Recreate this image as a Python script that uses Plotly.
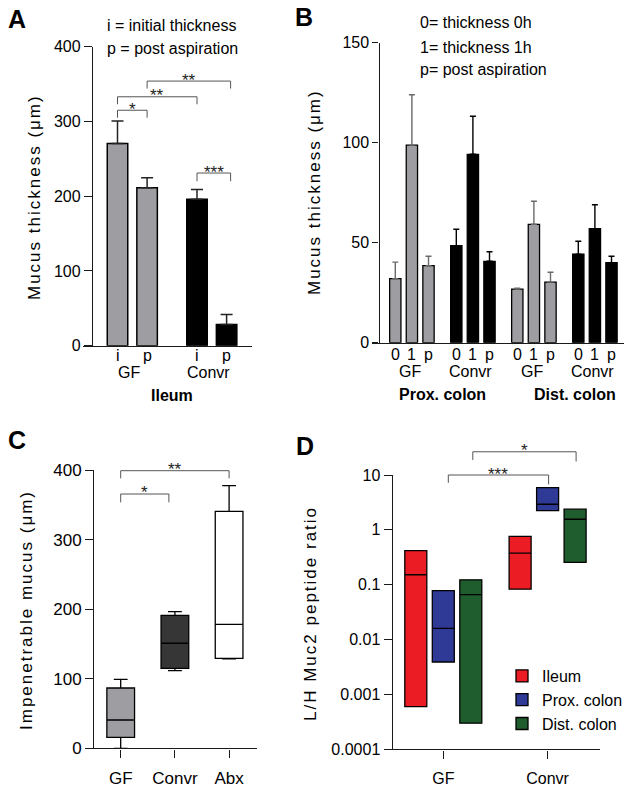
import math
import plotly.graph_objects as go

W, H = 634, 788
FONT = "Liberation Sans, Arial, Helvetica, sans-serif"

# ---------------- data ----------------
# Panel A (Ileum)
a_groups = ["GF", "Convr"]
a_conds = ["i", "p"]
a_mean = [[270.5, 211.4], [195.8, 28.5]]
a_errtop = [[300.6, 224.7], [209.0, 41.9]]
a_region = "Ileum"
a_yticks = [0, 100, 200, 300, 400]
# brackets: (label, (group, cond), (group, cond), level, leg bottom)
a_sig = [("*", (0, 0), (0, 1), 315, 305),
         ("**", (0, 0), (1, 0), 333, 323),
         ("**", (0, 1), (1, 1), 354, 344),
         ("***", (1, 0), (1, 1), 231, 220)]

# Panel B (colon)
b_regions = ["Prox. colon", "Dist. colon"]
b_groups = ["GF", "Convr"]
b_conds = ["0", "1", "p"]
b_mean = {("Prox. colon", "GF"): [32.0, 98.8, 38.5],
          ("Prox. colon", "Convr"): [48.5, 94.2, 40.7],
          ("Dist. colon", "GF"): [26.8, 59.2, 30.3],
          ("Dist. colon", "Convr"): [44.3, 57.0, 40.0]}
b_errtop = {("Prox. colon", "GF"): [40.3, 124.0, 43.2],
            ("Prox. colon", "Convr"): [56.7, 113.2, 45.5],
            ("Dist. colon", "GF"): [27.3, 70.7, 35.2],
            ("Dist. colon", "Convr"): [50.7, 69.0, 43.2]}
b_yticks = [0, 50, 100, 150]

# Panel C (impenetrable mucus, box plots)
c_cats = ["GF", "Convr", "Abx"]
c_low = [0, 111.6, 128.4]
c_q1 = [15.8, 115.0, 129.3]
c_med = [40.7, 151.0, 178.0]
c_q3 = [86.7, 191.0, 340.6]
c_high = [99.0, 196.4, 377.5]
c_yticks = [0, 100, 200, 300, 400]
c_sig = [("*", 0, 1, 365.5, 353.5), ("**", 0, 2, 399, 388)]

# Panel D (L/H Muc2 peptide ratio, floating bars min-median-max)
d_cats = ["GF", "Convr"]
d_series = ["Ileum", "Prox. colon", "Dist. colon"]
d_min = {"Ileum": [0.0006, 0.083], "Prox. colon": [0.0039, 2.25], "Dist. colon": [0.0003, 0.255]}
d_med = {"Ileum": [0.152, 0.377], "Prox. colon": [0.016, 2.93], "Dist. colon": [0.066, 1.56]}
d_max = {"Ileum": [0.42, 0.76], "Prox. colon": [0.078, 5.9], "Dist. colon": [0.123, 2.38]}
d_yticks = [0.0001, 0.001, 0.01, 0.1, 1, 10]
d_yticktext = ["0.0001", "0.001", "0.01", "0.1", "1", "10"]
d_sig = [("***", (0, 1), (1, 1), 10, 7.2), ("*", (0, 2), (1, 2), 26.5, 18.8)]

# ---------------- styles / layout constants ----------------
GRAY = "#9e9ea2"
BLACK = "#000000"
AXC = "#1a1a1a"
SIGC = "#555555"
STARC = "#222222"
d_colors = {"Ileum": "#ec1c24", "Prox. colon": "#2f3a96", "Dist. colon": "#1f5c2e"}
c_fill = ["#9e9ea2", "#363636", "#ffffff"]


def yp(p):
    return 1 - p / H


def xp(p):
    return p / W


# x positions in pixel-like axis units
A_X0, A_SLOT, A_GSTEP, A_BW = 117.5, 29.6, 79.5, 20.5
B_X0, B_SLOT, B_GSTEP, B_BW = 395.3, 16.6, 61.0, 11.3
C_X0, C_STEP, C_BW = 120.7, 54.2, 27.7
D_X0, D_STEP, D_SLOT, D_BW = 443.3, 104.3, 27.5, 22.0

D_DOM = [yp(749.3), yp(475)]
D_RANGE = [-4, 1]


def ax_(g, c):
    return A_X0 + g * A_GSTEP + c * A_SLOT


def bx_(r, g, c):
    return B_X0 + (r * 2 + g) * B_GSTEP + c * B_SLOT


def cx_(i):
    return C_X0 + i * C_STEP


def dx_(i, s):
    return D_X0 + i * D_STEP + (s - 1) * D_SLOT


def d_paper(v):
    f = (math.log10(v) - D_RANGE[0]) / (D_RANGE[1] - D_RANGE[0])
    return D_DOM[0] + f * (D_DOM[1] - D_DOM[0])


fig = go.Figure()
ann = []
shapes = []


def bracket(xref, yref, x1, x2, lev, leg1, leg2=None):
    if leg2 is None:
        leg2 = leg1
    path = "M %f,%f L %f,%f L %f,%f L %f,%f" % (x1, leg1, x1, lev, x2, lev, x2, leg2)
    shapes.append(dict(type="path", path=path, xref=xref, yref=yref,
                       line=dict(color=SIGC, width=1)))


def star(lab, xref, yref, x, y):
    ann.append(dict(text=lab, x=x, xref=xref, y=y, yref=yref, yshift=1,
                    showarrow=False, font=dict(size=17, color=STARC), yanchor="middle"))


# ---------- Panel A ----------
for g, grp in enumerate(a_groups):
    xs = [ax_(g, c) for c in range(len(a_conds))]
    col = GRAY if grp == "GF" else BLACK
    fig.add_trace(go.Bar(
        x=xs, y=a_mean[g], width=A_BW, xaxis="x", yaxis="y",
        marker=dict(color=col, line=dict(color=BLACK, width=1.5)),
        error_y=dict(type="data", symmetric=False,
                     array=[t - m for t, m in zip(a_errtop[g], a_mean[g])],
                     arrayminus=[0] * len(a_mean[g]),
                     color="#222222", thickness=1.5, width=6),
        showlegend=False, hoverinfo="skip"))
    for x, cond in zip(xs, a_conds):
        ann.append(dict(text=cond, x=x, xref="x", y=yp(355.5), yref="paper",
                        showarrow=False, font=dict(size=16), yanchor="middle"))
    ann.append(dict(text=grp, x=sum(xs) / len(xs) - 3, xref="x", y=yp(372.5), yref="paper",
                    showarrow=False, font=dict(size=16), xanchor="center", yanchor="middle"))
ann.append(dict(text="<b>%s</b>" % a_region, x=(ax_(0, 0) + ax_(1, 1)) / 2, xref="x",
                y=yp(395), yref="paper", showarrow=False, font=dict(size=16),
                yanchor="middle"))
for lab, (g1, c1), (g2, c2), lev, leg in a_sig:
    x1, x2 = ax_(g1, c1), ax_(g2, c2) + (4 if (g2, c2) == (1, 1) else 0)
    bracket("x", "y", x1, x2, lev, leg)
    star(lab, "x", "y", (x1 + x2) / 2, lev)

# ---------- Panel B ----------
for r, reg in enumerate(b_regions):
    for g, grp in enumerate(b_groups):
        xs = [bx_(r, g, c) for c in range(len(b_conds))]
        col = GRAY if grp == "GF" else BLACK
        m = b_mean[(reg, grp)]
        e = b_errtop[(reg, grp)]
        fig.add_trace(go.Bar(
            x=xs, y=m, width=B_BW, xaxis="x2", yaxis="y2",
            marker=dict(color=col, line=dict(color=BLACK, width=1.3)),
            error_y=dict(type="data", symmetric=False,
                         array=[t - v for t, v in zip(e, m)], arrayminus=[0] * len(m),
                         color="#6a6a6a" if grp == "GF" else BLACK, thickness=1.4, width=3),
            showlegend=False, hoverinfo="skip"))
        for x, cond in zip(xs, b_conds):
            ann.append(dict(text=cond, x=x, xref="x2", y=yp(354.5), yref="paper",
                            showarrow=False, font=dict(size=16), yanchor="middle"))
        ann.append(dict(text=grp, x=xs[1] - 2, xref="x2", y=yp(371.5), yref="paper",
                        showarrow=False, font=dict(size=16), yanchor="middle"))
    xr = (bx_(r, 0, 0) + bx_(r, 1, 2)) / 2 + (0 if r == 0 else 11)
    ann.append(dict(text="<b>%s</b>" % reg, x=xr, xref="x2", y=yp(394.5), yref="paper",
                    showarrow=False, font=dict(size=16), yanchor="middle"))

# ---------- Panel C ----------
for i, cat in enumerate(c_cats):
    fig.add_trace(go.Box(
        x=[cx_(i)], q1=[c_q1[i]], median=[c_med[i]], q3=[c_q3[i]],
        lowerfence=[c_low[i]], upperfence=[c_high[i]], orientation="v",
        width=C_BW, whiskerwidth=0.5, fillcolor=c_fill[i],
        line=dict(color=BLACK, width=1.3), boxpoints=False,
        xaxis="x3", yaxis="y3", showlegend=False, hoverinfo="skip"))
for lab, i1, i2, lev, leg in c_sig:
    x1, x2 = cx_(i1), cx_(i2) - (6 if i2 == 1 else 0)
    bracket("x3", "y3", x1, x2, lev, leg)
    star(lab, "x3", "y3", (x1 + x2) / 2, lev)

# ---------- Panel D ----------
for s, ser in enumerate(d_series):
    fig.add_trace(go.Box(
        x=[dx_(i, s) for i in range(len(d_cats))],
        q1=d_min[ser], median=d_med[ser], q3=d_max[ser],
        lowerfence=d_min[ser], upperfence=d_max[ser], orientation="v",
        width=D_BW, whiskerwidth=0, fillcolor=d_colors[ser],
        line=dict(color=BLACK, width=1.3), boxpoints=False, name=ser,
        xaxis="x4", yaxis="y4", showlegend=True, hoverinfo="skip"))
for lab, (i1, s1), (i2, s2), lev, leg in d_sig:
    x1, x2 = dx_(i1, s1) + (5 if s1 == 1 else 2), dx_(i2, s2) + 1
    bracket("x4", "paper", x1, x2, d_paper(lev), d_paper(leg), d_paper(leg) - 0.002)
    star(lab, "x4", "paper", (x1 + x2) / 2, d_paper(lev))

# ---------- text annotations ----------
for txt, x, y in [("A", 17, 18.5), ("B", 304, 17.5), ("C", 16.5, 440), ("D", 305, 446)]:
    ann.append(dict(text="<b>%s</b>" % txt, x=xp(x), y=yp(y), xref="paper", yref="paper",
                    showarrow=False, font=dict(size=25), xanchor="center", yanchor="middle"))
for txt, x, y in [("i = initial thickness", 105, 25), ("p = post aspiration", 105, 49),
                  ("0= thickness 0h", 418, 23), ("1= thickness 1h", 418, 47),
                  ("p= post aspiration", 418, 70)]:
    ann.append(dict(text=txt, x=xp(x), y=yp(y), xref="paper", yref="paper", showarrow=False,
                    font=dict(size=16), xanchor="left", yanchor="middle"))
for txt, x, y, fs in [("Mucus thickness (μm)", 34, 197, 17), ("Mucus thickness (μm)", 314, 192, 17),
                      ("Impenetrable mucus (μm)", 26, 610, 17),
                      ("L/H Muc2 peptide ratio", 310, 614, 17)]:
    ann.append(dict(text=txt, x=xp(x), y=yp(y), xref="paper", yref="paper", showarrow=False,
                    textangle=-90, font=dict(size=fs), xanchor="center", yanchor="middle"))

common_y = dict(showline=True, linecolor=AXC, linewidth=1.4, ticks="outside", ticklen=8,
                tickwidth=1.3, tickcolor=AXC, showgrid=False, zeroline=False,
                tickfont=dict(size=16), anchor="free", automargin=False)
common_x = dict(showline=True, linecolor=AXC, linewidth=1.4, showgrid=False, zeroline=False,
                tickfont=dict(size=16), automargin=False)

fig.update_layout(
    template="none",
    width=W, height=H, margin=dict(l=0, r=0, t=0, b=0, pad=0, autoexpand=False),
    paper_bgcolor="white", plot_bgcolor="white",
    font=dict(family=FONT, color="black", size=16),
    showlegend=True,
    legend=dict(x=xp(502), y=yp(659), xanchor="left", yanchor="top",
                font=dict(size=16), bgcolor="rgba(0,0,0,0)", tracegroupgap=0,
                borderwidth=0),
    xaxis=dict(common_x, domain=[xp(83), xp(252)], range=[83, 252], anchor="y",
               showticklabels=False, ticks=""),
    yaxis=dict(common_y, domain=[yp(345.7), yp(46.7)], range=[0, 400], position=xp(92),
               tickvals=a_yticks),
    xaxis2=dict(common_x, domain=[xp(372), xp(624)], range=[372, 624], anchor="y2",
                showticklabels=False, ticks=""),
    yaxis2=dict(common_y, domain=[yp(342.7), yp(42.7)], range=[0, 150], position=xp(378.5),
                tickvals=b_yticks, ticklen=6),
    xaxis3=dict(common_x, domain=[xp(85), xp(256.7)], range=[85, 256.7], anchor="y3",
                tickvals=[cx_(i) for i in range(len(c_cats))], ticktext=c_cats,
                ticks="outside", ticklen=8, tickwidth=1.3, tickcolor=AXC,
                tickfont=dict(size=17), ticklabelstandoff=6),
    yaxis3=dict(common_y, domain=[yp(748.3), yp(470)], range=[0, 400], position=xp(93.3),
                tickvals=c_yticks, tickfont=dict(size=17)),
    xaxis4=dict(common_x, domain=[xp(383.7), xp(600)], range=[383.7, 600], anchor="y4",
                tickvals=[D_X0 + i * D_STEP for i in range(len(d_cats))], ticktext=d_cats,
                ticks="outside", ticklen=8, tickwidth=1.3, tickcolor=AXC,
                ticklabelstandoff=6),
    yaxis4=dict(common_y, type="log", domain=D_DOM, range=D_RANGE,
                position=xp(391.7), tickvals=d_yticks, ticktext=d_yticktext),
    annotations=ann,
    shapes=shapes,
)

post = """
document.body.style.margin = '0';
document.body.style.padding = '0';
var gd = document.getElementById('{plot_id}');
function ls(){
  gd.querySelectorAll('text.annotation-text').forEach(function(t){
    var u = t.getAttribute('data-unformatted') || t.textContent;
    if (/\\u03bcm|Muc2/.test(u)) { t.style.letterSpacing = '2px'; }
  });
}
ls();
if (gd.on) { gd.on('plotly_afterplot', ls); }
"""
fig.write_html("out.html", post_script=post, config={"displayModeBar": False})
